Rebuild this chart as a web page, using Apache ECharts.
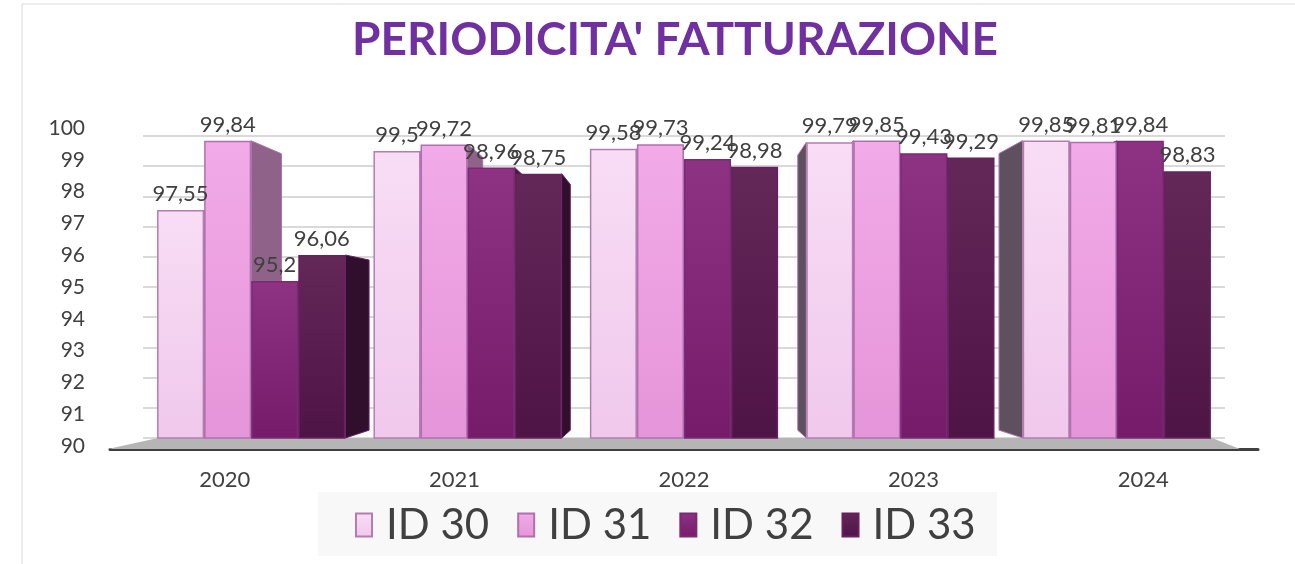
<!DOCTYPE html>
<html>
<head>
<meta charset="utf-8">
<script src="https://cdn.jsdelivr.net/npm/echarts@6/dist/echarts.min.js"></script>
<style>
  html, body { margin: 0; padding: 0; background: #ffffff; }
  #chart { width: 1295px; height: 564px; }
</style>
</head>
<body>
<div id="chart"></div>
<script>
// dati
const years = ["2020", "2021", "2022", "2023", "2024"];
const id30 = [97.55, 99.5, 99.58, 99.79, 99.85];
const id31 = [99.84, 99.72, 99.73, 99.85, 99.81];
const id32 = [95.2, 98.96, 99.24, 99.43, 99.84];
const id33 = [96.06, 98.75, 98.98, 99.29, 98.83];
const yTicks = [90, 91, 92, 93, 94, 95, 96, 97, 98, 99, 100];

const seriesNames = ["ID 30", "ID 31", "ID 32", "ID 33"];
const seriesData = [id30, id31, id32, id33];
const topColors = ["#F8DDF5", "#F2AAE8", "#8E3384", "#632758"];
const bottomColors = ["#F0C8EC", "#E595D9", "#761B6A", "#4F1446"];
const borderColors = ["#B57CB3", "#B070AE", "#7B2A72", "#6A1F60"];
const faceColors = ["#5F5060", "#8F6389", "#4A1744", "#2F0F2C"];
const gapPct = 0.13;

const chart = echarts.init(document.getElementById("chart"));

const fmt = (p) => String(p.value).replace(".", ",");

function barSeries(i) {
  return {
    name: seriesNames[i],
    type: "bar",
    xAxisIndex: 1,
    yAxisIndex: 1,
    data: seriesData[i],
    barGap: "0%",
    barCategoryGap: gapPct * 100 + "%",
    z: 3,
    itemStyle: {
      color: new echarts.graphic.LinearGradient(0, 0, 0, 1, [
        { offset: 0, color: topColors[i] },
        { offset: 1, color: bottomColors[i] },
      ]),
      borderColor: borderColors[i],
      borderWidth: 1.5,
    },
    label: {
      show: true,
      position: "top",
      distance: 5,
      formatter: fmt,
      color: "#404040",
      fontSize: 22,
      fontFamily: "Lato",
    },
  };
}

// facce laterali (finto 3D), stesse barre viste in prospettiva
const faceData = [];
seriesData.forEach((arr, s) => {
  arr.forEach((v, c) => faceData.push([c, v, s]));
});

function renderFace(params, api) {
  const c = api.value(0);
  const v = api.value(1);
  const s = api.value(2);
  const top = api.coord([c, v]);
  const bot = api.coord([c, 90]);
  const catW = api.size([1, 0])[0];
  const bw = (catW * (1 - gapPct)) / 4;
  const xl = top[0] - 2 * bw + s * bw;
  const xr = xl + bw;
  const vx = api.coord([2, 90])[0];
  const hY = api.coord([0, 93.7])[1];
  const k = 0.07;
  let xe;
  if (xr < vx - 1) xe = xr;
  else if (xl > vx + 1) xe = xl;
  else return null;
  const back = (x, y) => [x + (vx - x) * k, y + (hY - y) * k];
  return {
    type: "polygon",
    shape: { points: [[xe, top[1]], back(xe, top[1]), back(xe, bot[1]), [xe, bot[1]]] },
    style: { fill: faceColors[s], stroke: borderColors[s], lineWidth: 1 },
  };
}

const option = {
  backgroundColor: "#ffffff",
  animation: false,
  title: {
    text: "PERIODICITA' FATTURAZIONE",
    left: 670,
    top: 12,
    textAlign: "center",
    textStyle: {
      color: "#7030A0",
      fontSize: 46,
      fontWeight: "bold",
      fontFamily: "Lato",
    },
  },
  legend: {
    left: 350,
    top: 499,
    icon: "rect",
    itemWidth: 16,
    itemHeight: 23,
    itemGap: 28,
    data: seriesNames,
    textStyle: {
      color: "#404040",
      fontSize: 42,
      fontFamily: "Lato",
      padding: [0, 0, 0, 9],
    },
  },
  graphic: [
    {
      type: "rect",
      shape: { x: 22, y: 4, width: 1290, height: 600 },
      style: { fill: null, stroke: "#D9D9D9", lineWidth: 1 },
      z: 0,
    },
    {
      type: "rect",
      shape: { x: 318, y: 492, width: 679, height: 64 },
      style: { fill: "#F8F8F8" },
      z: 0,
    },
    {
      type: "polygon",
      shape: { points: [[158, 438], [1212, 438], [1240, 449], [108, 449]] },
      style: { fill: "#B5B5B5" },
      z: 1,
    },
  ],
  grid: [
    { left: 95, width: 1, top: 128, height: 318 },
    { left: 143, right: 70, top: 136, bottom: 126 },
    { left: 110, right: 37, top: 436, height: 13 },
  ],
  xAxis: [
    { gridIndex: 0, type: "category", show: false, data: years },
    {
      gridIndex: 1,
      type: "category",
      data: years,
      axisLine: { show: false },
      axisTick: { show: false },
      axisLabel: { show: false },
    },
    {
      gridIndex: 2,
      type: "category",
      data: years,
      axisLine: { show: true, lineStyle: { color: "#404040", width: 3 } },
      axisTick: { show: false },
      axisLabel: {
        color: "#404040",
        fontSize: 22,
        fontFamily: "Lato",
        margin: 20,
      },
    },
  ],
  yAxis: [
    {
      gridIndex: 0,
      type: "value",
      min: yTicks[0],
      max: yTicks[yTicks.length - 1],
      interval: 1,
      axisLine: { show: false },
      axisTick: { show: false },
      splitLine: { show: false },
      axisLabel: {
        color: "#404040",
        fontSize: 21,
        fontFamily: "Lato",
        margin: 10,
      },
    },
    {
      gridIndex: 1,
      type: "value",
      min: 90,
      max: 100,
      interval: 1,
      axisLine: { show: false },
      axisTick: { show: false },
      axisLabel: { show: false },
      splitLine: { show: true, lineStyle: { color: "#D9D9D9", width: 2 } },
    },
    { gridIndex: 2, type: "value", show: false },
  ],
  series: [
    barSeries(0),
    barSeries(1),
    barSeries(2),
    barSeries(3),
    {
      type: "custom",
      xAxisIndex: 1,
      yAxisIndex: 1,
      data: faceData,
      renderItem: renderFace,
      z: 2,
      silent: true,
    },
  ],
};

chart.setOption(option);
</script>
</body>
</html>
